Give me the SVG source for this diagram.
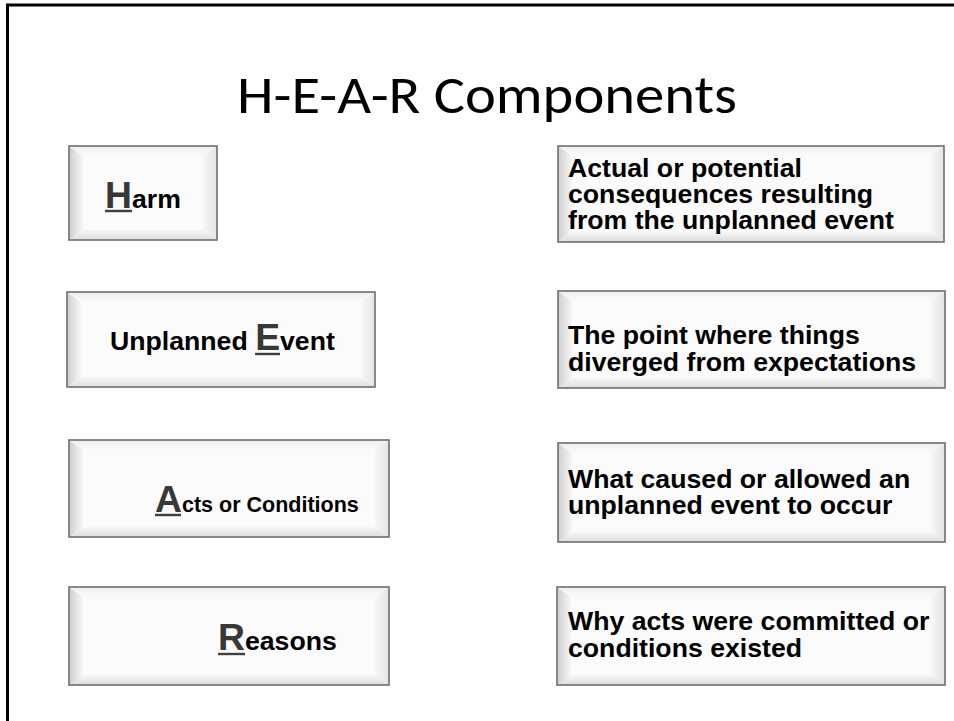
<svg xmlns="http://www.w3.org/2000/svg" width="954" height="721" viewBox="0 0 954 721">
<defs>
<linearGradient id="gL" x1="0" y1="0" x2="1" y2="0"><stop offset="0" stop-color="#cfcfcf"/><stop offset="1" stop-color="#f6f6f6"/></linearGradient>
<linearGradient id="gR" x1="0" y1="0" x2="1" y2="0"><stop offset="0" stop-color="#f7f7f7"/><stop offset="1" stop-color="#e4e4e4"/></linearGradient>
<linearGradient id="gT" x1="0" y1="0" x2="0" y2="1"><stop offset="0" stop-color="#eeeeee"/><stop offset="1" stop-color="#fbfbfb"/></linearGradient>
<linearGradient id="gB" x1="0" y1="0" x2="0" y2="1"><stop offset="0" stop-color="#f6f6f6"/><stop offset="1" stop-color="#dddddd"/></linearGradient>
</defs>
<style>
.face{fill:#fbfbfb}
.edge{fill:none;stroke:#6e6e6e;stroke-width:1.6}
.bl{fill:url(#gL)}.br{fill:url(#gR)}.bt{fill:url(#gT)}.bb{fill:url(#gB)}
.t{font-family:"Liberation Sans",Arial,sans-serif;font-weight:bold;font-size:26.67px;fill:#000}
.big{font-size:37.33px;fill:#383838}
.ul{stroke:#404040;stroke-width:2.4}
.title{font-family:Carlito,Calibri,Lato,"Open Sans",sans-serif;font-size:53px;fill:#000}
</style>
<rect x="7.5" y="5" width="970" height="740" fill="#fff" stroke="#000" stroke-width="3"/>
<text class="title" x="487" y="113" text-anchor="middle" textLength="500" lengthAdjust="spacingAndGlyphs">H-E-A-R Components</text>

<g id="harm">
<rect class="face" x="69" y="146" width="148" height="94"/>
<polygon class="bl" points="69,146 83,156 83,230 69,240"/>
<polygon class="bt" points="69,146 217,146 203,156 83,156"/>
<polygon class="br" points="217,146 217,240 203,230 203,156"/>
<polygon class="bb" points="69,240 83,230 203,230 217,240"/>
<rect class="edge" x="69" y="146" width="148" height="94"/>
<text class="t" x="105" y="208"><tspan class="big">H</tspan>arm</text>
<line class="ul" x1="105" y1="211" x2="132" y2="211"/>
</g>

<g id="harm-desc">
<rect class="face" x="558" y="146" width="386" height="96"/>
<polygon class="bl" points="558,146 572,156 572,232 558,242"/>
<polygon class="bt" points="558,146 944,146 930,156 572,156"/>
<polygon class="br" points="944,146 944,242 930,232 930,156"/>
<polygon class="bb" points="558,242 572,232 930,232 944,242"/>
<rect class="edge" x="558" y="146" width="386" height="96"/>
<text class="t"><tspan x="568" y="177">Actual or potential</tspan><tspan x="568" dy="26">consequences resulting</tspan><tspan x="568" dy="26">from the unplanned event</tspan></text>
</g>

<g id="event">
<rect class="face" x="67" y="292" width="308" height="95"/>
<polygon class="bl" points="67,292 81,302 81,377 67,387"/>
<polygon class="bt" points="67,292 375,292 361,302 81,302"/>
<polygon class="br" points="375,292 375,387 361,377 361,302"/>
<polygon class="bb" points="67,387 81,377 361,377 375,387"/>
<rect class="edge" x="67" y="292" width="308" height="95"/>
<text class="t" x="110" y="350">Unplanned <tspan class="big">E</tspan>vent</text>
<line class="ul" x1="255" y1="354" x2="280" y2="354"/>
</g>

<g id="event-desc">
<rect class="face" x="558" y="291" width="387" height="97"/>
<polygon class="bl" points="558,291 572,301 572,378 558,388"/>
<polygon class="bt" points="558,291 945,291 931,301 572,301"/>
<polygon class="br" points="945,291 945,388 931,378 931,301"/>
<polygon class="bb" points="558,388 572,378 931,378 945,388"/>
<rect class="edge" x="558" y="291" width="387" height="97"/>
<text class="t"><tspan x="568" y="344">The point where things</tspan><tspan x="568" dy="27">diverged from expectations</tspan></text>
</g>

<g id="acts">
<rect class="face" x="69" y="440" width="320" height="97"/>
<polygon class="bl" points="69,440 83,450 83,527 69,537"/>
<polygon class="bt" points="69,440 389,440 375,450 83,450"/>
<polygon class="br" points="389,440 389,537 375,527 375,450"/>
<polygon class="bb" points="69,537 83,527 375,527 389,537"/>
<rect class="edge" x="69" y="440" width="320" height="97"/>
<text class="t" x="155" y="512"><tspan class="big">A</tspan><tspan font-size="21.5px">cts or Conditions</tspan></text>
<line class="ul" x1="155" y1="515" x2="181" y2="515"/>
</g>

<g id="acts-desc">
<rect class="face" x="558" y="443" width="387" height="99"/>
<polygon class="bl" points="558,443 572,453 572,532 558,542"/>
<polygon class="bt" points="558,443 945,443 931,453 572,453"/>
<polygon class="br" points="945,443 945,542 931,532 931,453"/>
<polygon class="bb" points="558,542 572,532 931,532 945,542"/>
<rect class="edge" x="558" y="443" width="387" height="99"/>
<text class="t"><tspan x="568" y="488">What caused or allowed an</tspan><tspan x="568" dy="26">unplanned event to occur</tspan></text>
</g>

<g id="reasons">
<rect class="face" x="69" y="587" width="320" height="98"/>
<polygon class="bl" points="69,587 83,597 83,675 69,685"/>
<polygon class="bt" points="69,587 389,587 375,597 83,597"/>
<polygon class="br" points="389,587 389,685 375,675 375,597"/>
<polygon class="bb" points="69,685 83,675 375,675 389,685"/>
<rect class="edge" x="69" y="587" width="320" height="98"/>
<text class="t" x="218" y="650"><tspan class="big">R</tspan>easons</text>
<line class="ul" x1="218" y1="654" x2="245" y2="654"/>
</g>

<g id="reasons-desc">
<rect class="face" x="557" y="587" width="388" height="98"/>
<polygon class="bl" points="557,587 571,597 571,675 557,685"/>
<polygon class="bt" points="557,587 945,587 931,597 571,597"/>
<polygon class="br" points="945,587 945,685 931,675 931,597"/>
<polygon class="bb" points="557,685 571,675 931,675 945,685"/>
<rect class="edge" x="557" y="587" width="388" height="98"/>
<text class="t"><tspan x="568" y="630">Why acts were committed or</tspan><tspan x="568" dy="27">conditions existed</tspan></text>
</g>

<g id="connectors"/>
</svg>
